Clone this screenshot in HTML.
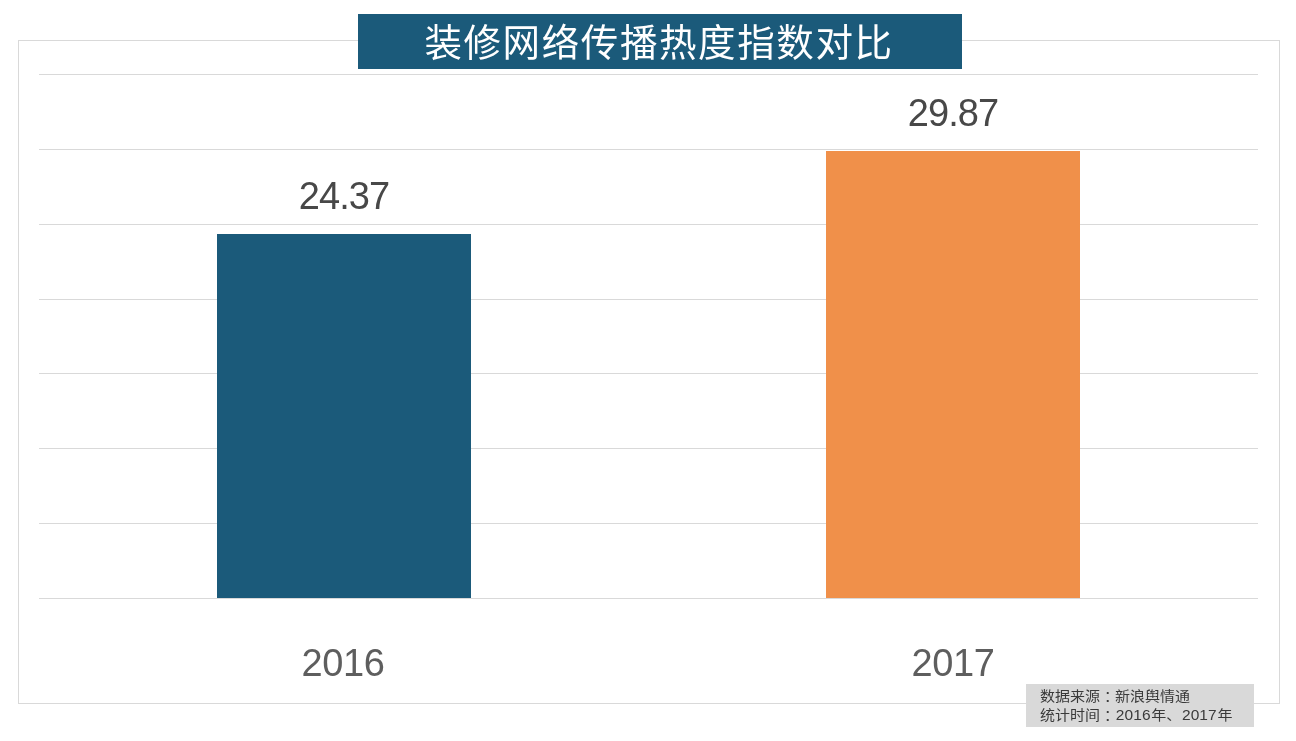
<!DOCTYPE html>
<html lang="zh-CN">
<head>
<meta charset="utf-8">
<title>装修网络传播热度指数对比</title>
<style>
  html, body { margin: 0; padding: 0; background: #ffffff; overflow: hidden; }
  body { width: 1296px; height: 741px; position: relative; overflow: hidden;
         font-family: "Liberation Sans", "Noto Sans CJK SC", sans-serif; }
  .abs { position: absolute; }
  #frame { left: 18px; top: 40px; width: 1260px; height: 662px; border: 1px solid #d9d9d9; box-sizing: content-box; }
  .grid { left: 39px; width: 1219px; height: 1px; background: #d9d9d9; }
  #banner { left: 358px; top: 14px; width: 604px; height: 55px; background: #1b5a7a; }
  #title { left: 357px; top: 16px; width: 604px; height: 55px; line-height: 55px; text-align: center;
           color: #ffffff; font-size: 37.5px; letter-spacing: 1.6px; white-space: nowrap; }
  .bar { }
  #bar1 { left: 217px; top: 234px; width: 254px; height: 364px; background: #1b5a7a; }
  #bar2 { left: 826px; top: 151px; width: 254px; height: 447px; background: #f0904a; }
  .val { width: 254px; text-align: center; font-size: 38px; line-height: 40px; color: #484848; white-space: nowrap; letter-spacing: -0.95px; }
  .cat { width: 254px; text-align: center; font-size: 38px; line-height: 40px; color: #5e5e5e; white-space: nowrap; letter-spacing: -0.4px; }
  #note { left: 1026px; top: 684px; width: 228px; height: 43px; background: #d9d9d9; }
  .nl { left: 1040px; height: 19px; line-height: 19px; font-size: 15px; letter-spacing: 0; color: #3a3a3a; white-space: nowrap; transform: scaleY(0.92); transform-origin: 0 50%; }
  .nl .n { font-size: 15.5px; letter-spacing: 0.1px; margin-left: 0.7px; margin-right: 0.6px; }
  .nl .c { position: relative; left: 4px; }
</style>
</head>
<body>
  <div class="abs" id="frame"></div>

  <div class="abs grid" style="top:74px"></div>
  <div class="abs grid" style="top:149px"></div>
  <div class="abs grid" style="top:224px"></div>
  <div class="abs grid" style="top:299px"></div>
  <div class="abs grid" style="top:373px"></div>
  <div class="abs grid" style="top:448px"></div>
  <div class="abs grid" style="top:523px"></div>
  <div class="abs grid" style="top:598px"></div>

  <div class="abs" id="banner"></div>
  <div class="abs" id="title">装修网络传播热度指数对比</div>

  <div class="abs bar" id="bar1"></div>
  <div class="abs bar" id="bar2"></div>

  <div class="abs val" style="left:217px; top:176px">24.37</div>
  <div class="abs val" style="left:826px; top:93px">29.87</div>

  <div class="abs cat" style="left:216px; top:643px">2016</div>
  <div class="abs cat" style="left:826px; top:643px">2017</div>

  <div class="abs" id="note"></div>
  <div class="abs nl" style="top:685.7px">数据来源<span class="c">：</span>新浪舆情通</div>
  <div class="abs nl" style="top:704.5px">统计时间<span class="c">：</span><span class="n">2016</span>年、<span class="n">2017</span>年</div>
</body>
</html>
